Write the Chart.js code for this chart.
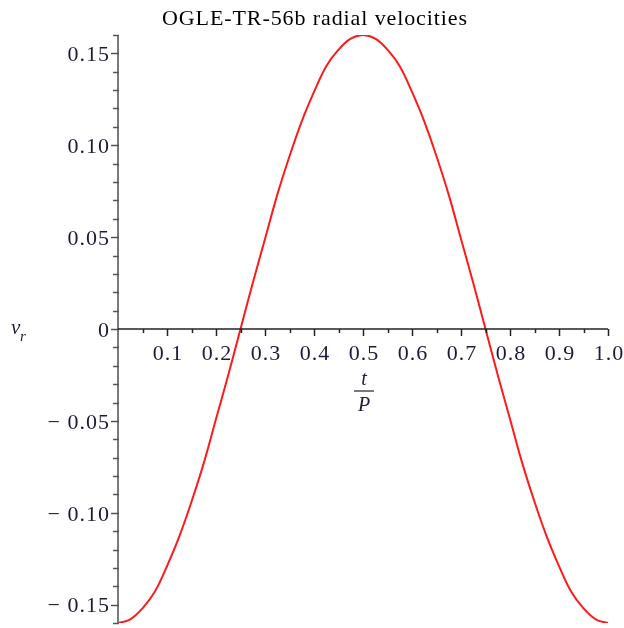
<!DOCTYPE html>
<html>
<head>
<meta charset="utf-8">
<title>OGLE-TR-56b radial velocities</title>
<script src="https://cdn.jsdelivr.net/npm/chart.js@4.4.1/dist/chart.umd.min.js"></script>
<style>
  html, body { margin: 0; padding: 0; background: #fff; }
  #wrap { width: 624px; height: 628px; }
</style>
</head>
<body>
<div id="wrap"><canvas id="rvChart" width="624" height="628"></canvas></div>
<script>
// Values (t/P vs v_r)
const phase = [0, 0.025, 0.05, 0.075, 0.1, 0.125, 0.15, 0.175, 0.2, 0.225, 0.25,
  0.275, 0.3, 0.325, 0.35, 0.375, 0.4, 0.425, 0.45, 0.475, 0.5,
  0.525, 0.55, 0.575, 0.6, 0.625, 0.65, 0.675, 0.7, 0.725, 0.75,
  0.775, 0.8, 0.825, 0.85, 0.875, 0.9, 0.925, 0.95, 0.975, 1.0];
const radialVelocity = [-0.160, -0.158, -0.152, -0.143, -0.129, -0.113, -0.094, -0.073, -0.049, -0.025, 0,
  0.025, 0.049, 0.073, 0.094, 0.113, 0.129, 0.143, 0.152, 0.158, 0.160,
  0.158, 0.152, 0.143, 0.129, 0.113, 0.094, 0.073, 0.049, 0.025, 0,
  -0.025, -0.049, -0.073, -0.094, -0.113, -0.129, -0.143, -0.152, -0.158, -0.160];
const xTickLabels = ['0.1', '0.2', '0.3', '0.4', '0.5', '0.6', '0.7', '0.8', '0.9', '1.0'];
const yTickValues = [0.15, 0.10, 0.05, 0, -0.05, -0.10, -0.15];
const yTickLabels = ['0.15', '0.10', '0.05', '0', '\u2212 0.05', '\u2212 0.10', '\u2212 0.15'];
const chartTitle = 'OGLE-TR-56b radial velocities';

const serif = '"Liberation Serif", "Times New Roman", serif';

// Maple-style axes: y axis at left, x axis crossing at v_r = 0
const mapleAxes = {
  id: 'mapleAxes',
  afterDraw(chart) {
    const ctx = chart.ctx;
    const xs = chart.scales.x, ys = chart.scales.y;
    const x0 = xs.getPixelForValue(0);
    const y0 = ys.getPixelForValue(0);
    ctx.save();

    // vertical axis
    ctx.strokeStyle = '#7a7a7a';
    ctx.lineWidth = 2;
    ctx.beginPath();
    ctx.moveTo(x0, ys.getPixelForValue(0.16) + 1);
    ctx.lineTo(x0, ys.getPixelForValue(-0.16) + 1);
    ctx.stroke();

    // y ticks, minor every 0.01
    ctx.strokeStyle = '#555';
    ctx.lineWidth = 1.5;
    for (let i = -16; i <= 16; i++) {
      const py = Math.round(ys.getPixelForValue(i / 100)) + 0.5;
      const major = i % 5 === 0;
      ctx.beginPath();
      ctx.moveTo(x0 - (major ? 7 : 5), py);
      ctx.lineTo(x0 + 1, py);
      ctx.stroke();
    }

    // horizontal axis
    ctx.strokeStyle = '#222';
    ctx.lineWidth = 1.5;
    ctx.beginPath();
    ctx.moveTo(x0, y0);
    ctx.lineTo(xs.getPixelForValue(1), y0);
    ctx.stroke();
    for (let i = 1; i <= 20; i++) {
      const px = Math.round(xs.getPixelForValue(i / 20)) + 0.5;
      const major = i % 2 === 0;
      ctx.beginPath();
      ctx.moveTo(px, y0);
      ctx.lineTo(px, y0 + (major ? 7 : 4));
      ctx.stroke();
    }

    // tick labels
    ctx.fillStyle = '#1c1c3a';
    ctx.font = '22px ' + serif;
    ctx.letterSpacing = '1px';
    ctx.textBaseline = 'middle';
    ctx.textAlign = 'center';
    xTickLabels.forEach((lab, i) => {
      ctx.fillText(lab, xs.getPixelForValue((i + 1) / 10) + 1, y0 + 25);
    });
    ctx.textAlign = 'right';
    yTickValues.forEach((v, i) => {
      ctx.fillText(yTickLabels[i], x0 - 8, ys.getPixelForValue(v) + 2);
    });

    // title
    ctx.fillStyle = '#000';
    ctx.textAlign = 'center';
    ctx.font = '22px ' + serif;
    ctx.letterSpacing = '0.9px';
    ctx.fillText(chartTitle, 315, 19);
    ctx.letterSpacing = '0px';

    // axis labels
    ctx.fillStyle = '#1c1c3a';
    ctx.textAlign = 'left';
    ctx.textBaseline = 'alphabetic';
    ctx.font = 'italic 21px ' + serif;
    ctx.fillText('v', 11, 334);
    ctx.font = 'italic 15px ' + serif;
    ctx.fillText('r', 20, 341);

    const cx = xs.getPixelForValue(0.5) + 1;
    ctx.textAlign = 'center';
    ctx.font = 'italic 20px ' + serif;
    ctx.fillText('t', cx, 385);
    ctx.fillText('P', cx, 411);
    ctx.strokeStyle = '#1c1c3a';
    ctx.lineWidth = 1.2;
    ctx.beginPath();
    ctx.moveTo(cx - 10, 391);
    ctx.lineTo(cx + 10, 391);
    ctx.stroke();

    ctx.restore();
  }
};

new Chart(document.getElementById('rvChart'), {
  type: 'line',
  data: {
    labels: phase,
    datasets: [{
      data: phase.map((t, i) => ({ x: t, y: radialVelocity[i] })),
      borderColor: '#ff1a1a',
      borderWidth: 2,
      pointRadius: 0,
      tension: 0.4,
      fill: false
    }]
  },
  options: {
    responsive: false,
    animation: false,
    layout: { padding: { left: 118, right: 16, top: 35, bottom: 5 } },
    plugins: { legend: { display: false }, tooltip: { enabled: false }, title: { display: false } },
    scales: {
      x: { type: 'linear', min: 0, max: 1, display: false },
      y: { type: 'linear', min: -0.16, max: 0.16, display: false }
    }
  },
  plugins: [mapleAxes]
});
</script>
</body>
</html>
